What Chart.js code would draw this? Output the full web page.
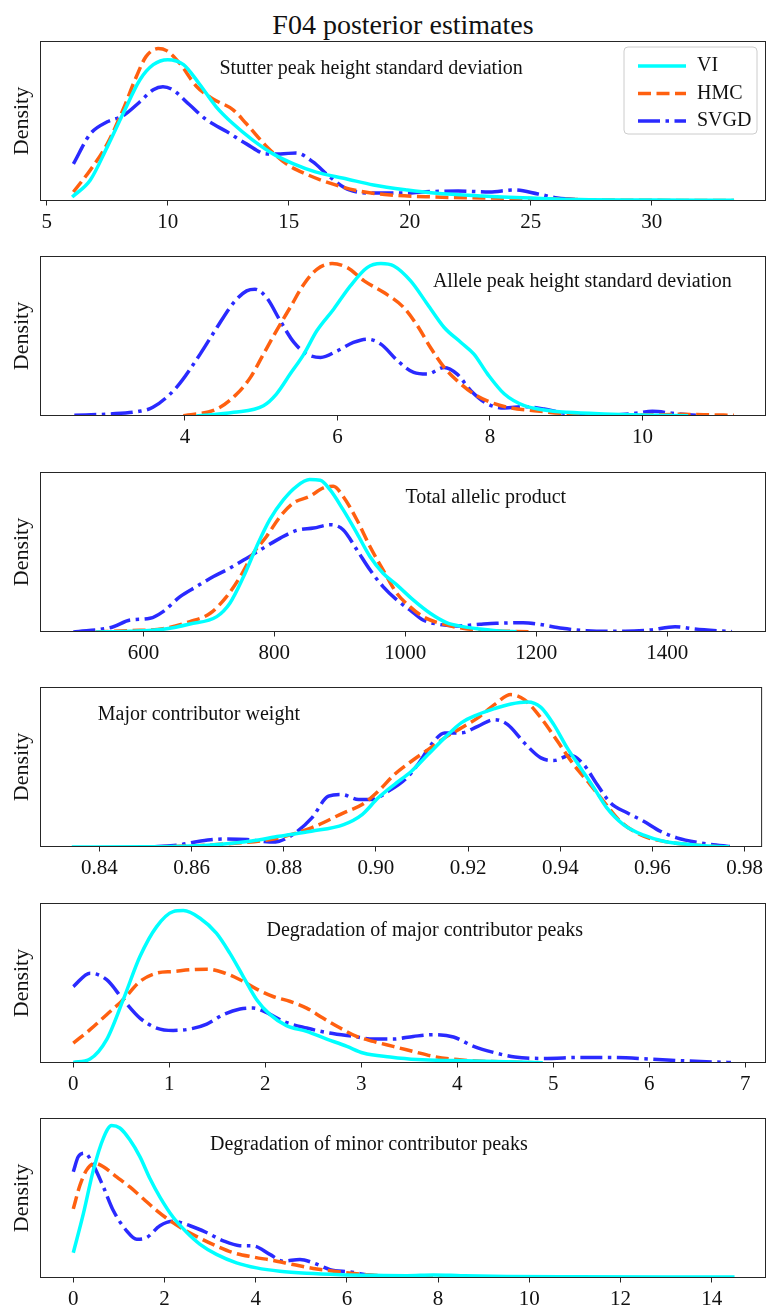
<!DOCTYPE html>
<html>
<head>
<meta charset="utf-8">
<title>F04 posterior estimates</title>
<script src="https://cdn.jsdelivr.net/npm/chart.js@4.4.1/dist/chart.umd.min.js"></script>
<style>
  html, body { margin: 0; padding: 0; background: #fff; overflow: hidden; }
  #page { position: relative; width: 767px; height: 1305px; }
  #title {
    position: absolute; left: 40px; width: 726px; top: 9px;
    text-align: center; font: 28px/32px "Liberation Serif", serif; color: #111;
  }
  canvas { position: absolute; left: 0; }
</style>
</head>
<body>
<div id="page">
  <div id="title">F04 posterior estimates</div>
</div>
<script>
// KDE curves per parameter, as [value, density] pairs
const stutterVI = [[6.05,0.004],[6.8,0.021],[7.5,0.054],[8.15,0.087],[8.85,0.121],[9.4,0.136],[10.0,0.141],[10.65,0.136],[11.3,0.117],[12.0,0.094],[12.7,0.077],[13.5,0.061],[14.35,0.047],[15.2,0.037],[16.1,0.029],[17.4,0.022],[18.5,0.016],[19.9,0.011],[21.0,0.008],[23.0,0.005],[25.0,0.003],[27.0,0.0015],[30.0,0.001],[33.4,0.0008]];
const stutterHMC = [[6.1,0.009],[6.8,0.031],[7.5,0.057],[8.15,0.091],[8.7,0.124],[9.1,0.144],[9.6,0.152],[9.95,0.150],[10.5,0.137],[11.2,0.114],[11.85,0.102],[12.7,0.091],[13.25,0.077],[14.1,0.054],[14.9,0.037],[15.7,0.027],[16.8,0.017],[17.9,0.010],[19.2,0.006],[21.0,0.004],[23.0,0.003],[25.0,0.0025],[28.0,0.001],[33.4,0.0005]];
const stutterSVGD = [[6.1,0.037],[6.8,0.067],[7.5,0.079],[8.15,0.085],[8.85,0.099],[9.4,0.111],[9.8,0.114],[10.2,0.111],[10.9,0.096],[11.6,0.081],[12.45,0.069],[13.25,0.057],[14.1,0.047],[14.65,0.047],[15.3,0.048],[16.0,0.039],[16.7,0.024],[17.5,0.011],[18.5,0.008],[19.9,0.008],[20.5,0.009],[22.0,0.010],[23.3,0.009],[24.3,0.011],[25.3,0.007],[26.1,0.003],[27.3,0.001],[27.6,0.0005]];

const alleleVI = [[4.15,0.0],[4.64,0.011],[5.03,0.031],[5.2,0.066],[5.38,0.126],[5.56,0.186],[5.73,0.256],[5.95,0.321],[6.17,0.391],[6.39,0.446],[6.57,0.458],[6.74,0.451],[6.96,0.406],[7.18,0.336],[7.4,0.266],[7.62,0.221],[7.79,0.186],[7.97,0.126],[8.19,0.066],[8.45,0.031],[8.71,0.018],[9.02,0.011],[9.5,0.006],[10.0,0.003],[10.6,0.001]];
const alleleHMC = [[3.98,0.001],[4.42,0.021],[4.68,0.066],[4.86,0.116],[5.03,0.186],[5.2,0.256],[5.38,0.326],[5.56,0.396],[5.73,0.441],[5.93,0.458],[6.13,0.446],[6.35,0.406],[6.61,0.371],[6.87,0.326],[7.05,0.271],[7.22,0.206],[7.4,0.146],[7.57,0.106],[7.79,0.066],[8.01,0.041],[8.28,0.024],[8.58,0.016],[8.93,0.008],[9.5,0.004],[10.0,0.003],[10.5,0.005],[10.8,0.004],[11.2,0.002]];
const alleleSVGD = [[2.55,0.002],[3.0,0.006],[3.4,0.014],[3.58,0.026],[3.89,0.086],[4.2,0.186],[4.42,0.266],[4.64,0.341],[4.81,0.376],[4.92,0.381],[5.07,0.356],[5.25,0.286],[5.43,0.221],[5.6,0.186],[5.78,0.176],[6.0,0.196],[6.21,0.221],[6.39,0.231],[6.57,0.216],[6.79,0.166],[7.0,0.131],[7.18,0.126],[7.4,0.146],[7.57,0.126],[7.75,0.076],[7.97,0.036],[8.19,0.024],[8.45,0.028],[8.71,0.021],[8.98,0.008],[9.5,0.002],[9.9,0.008],[10.13,0.014],[10.4,0.008],[10.7,0.002]];

const allelicVI = [[527,0.0],[580,0.00002],[630,0.00008],[671,0.00024],[712,0.00046],[732,0.00086],[753,0.00166],[773,0.00256],[793,0.00336],[814,0.00396],[834,0.00436],[854,0.00456],[870,0.00454],[885,0.00426],[905,0.00366],[926,0.00296],[946,0.00226],[966,0.00176],[987,0.00141],[1012,0.00096],[1038,0.00056],[1063,0.00028],[1088,0.00016],[1114,0.00009],[1150,0.00002],[1170,0.00001]];
const allelicHMC = [[527,0.0],[580,0.00004],[630,0.00010],[671,0.00031],[702,0.00056],[727,0.00106],[748,0.00166],[768,0.00236],[788,0.00286],[809,0.00346],[829,0.00386],[854,0.00406],[875,0.00431],[890,0.00436],[905,0.00406],[926,0.00336],[946,0.00256],[966,0.00186],[987,0.00116],[1007,0.00076],[1027,0.00046],[1053,0.00026],[1088,0.00011],[1130,0.00004],[1190,0.00001]];
const allelicSVGD = [[493,0.0],[553,0.00015],[580,0.00036],[610,0.00041],[630,0.00061],[656,0.00106],[681,0.00136],[707,0.00166],[732,0.00191],[758,0.00221],[783,0.00251],[809,0.00281],[834,0.00304],[860,0.00311],[885,0.00321],[905,0.00306],[926,0.00246],[946,0.00186],[966,0.00136],[987,0.00096],[1007,0.00066],[1027,0.00036],[1048,0.00024],[1078,0.00018],[1114,0.00023],[1139,0.00026],[1180,0.00028],[1202,0.00024],[1240,0.00011],[1277,0.00004],[1336,0.00002],[1374,0.00006],[1412,0.00016],[1442,0.00009],[1499,0.00001]];

const weightVI = [[0.834,0.0],[0.850,0.04],[0.860,0.2],[0.867,0.6],[0.873,1.2],[0.879,2.16],[0.886,3.16],[0.893,4.5],[0.897,6.5],[0.9005,9.84],[0.904,12.5],[0.9077,15.16],[0.9113,18.5],[0.9149,21.84],[0.9185,24.84],[0.9221,26.5],[0.9257,27.7],[0.9293,28.64],[0.9329,29.04],[0.9358,27.96],[0.9386,24.5],[0.9415,19.84],[0.9444,15.84],[0.9473,11.84],[0.9501,7.84],[0.9537,4.5],[0.9581,2.36],[0.9624,1.16],[0.9681,0.5],[0.9739,0.1],[0.9767,0.05]];
const weightHMC = [[0.852,0.0],[0.862,0.3],[0.870,0.8],[0.875,1.2],[0.879,1.84],[0.886,3.84],[0.893,6.84],[0.897,8.5],[0.9005,11.16],[0.904,14.5],[0.9077,17.16],[0.9113,19.5],[0.9149,21.84],[0.9185,23.84],[0.9221,25.84],[0.9257,28.5],[0.9293,30.5],[0.9322,29.5],[0.9358,25.84],[0.9394,21.16],[0.9429,16.5],[0.9465,12.5],[0.9494,9.16],[0.953,5.16],[0.9581,2.16],[0.9631,1.04],[0.9696,0.36],[0.9746,0.04]];
const weightSVGD = [[0.852,0.06],[0.857,0.4],[0.862,1.2],[0.867,1.6],[0.872,1.5],[0.877,1.0],[0.879,1.16],[0.8825,2.84],[0.8861,5.84],[0.8897,10.16],[0.8926,10.5],[0.8962,9.5],[0.8991,9.5],[0.9027,11.16],[0.9063,13.5],[0.9091,16.5],[0.912,20.5],[0.9149,22.84],[0.9185,22.84],[0.9221,24.16],[0.9257,25.5],[0.9286,24.5],[0.9322,20.84],[0.9358,17.84],[0.9386,17.3],[0.9422,18.36],[0.9451,16.5],[0.948,12.5],[0.9509,8.84],[0.9545,6.84],[0.9581,5.16],[0.9617,3.16],[0.9653,1.84],[0.9703,0.84],[0.9761,0.16],[0.9768,0.1]];

const majorVI = [[0,0.003],[0.174,0.02],[0.347,0.117],[0.52,0.317],[0.694,0.533],[0.868,0.683],[1.04,0.758],[1.146,0.763],[1.32,0.725],[1.49,0.65],[1.63,0.55],[1.77,0.433],[1.91,0.317],[2.05,0.242],[2.22,0.187],[2.43,0.158],[2.64,0.12],[2.85,0.083],[3.02,0.05],[3.3,0.03],[3.58,0.017],[4.0,0.012],[4.4,0.008],[4.89,0.001]];
const majorHMC = [[0,0.1],[0.174,0.167],[0.347,0.242],[0.52,0.317],[0.694,0.408],[0.868,0.45],[1.04,0.458],[1.215,0.467],[1.39,0.47],[1.56,0.453],[1.736,0.417],[1.91,0.37],[2.08,0.333],[2.26,0.308],[2.43,0.275],[2.6,0.225],[2.78,0.175],[2.95,0.133],[3.125,0.108],[3.33,0.083],[3.54,0.058],[3.75,0.033],[4.0,0.017],[4.2,0.01],[4.5,0.005],[4.9,0.0]];
const majorSVGD = [[0,0.383],[0.174,0.45],[0.347,0.417],[0.52,0.317],[0.694,0.225],[0.868,0.175],[1.04,0.163],[1.215,0.17],[1.39,0.195],[1.56,0.242],[1.736,0.27],[1.875,0.275],[2.01,0.253],[2.19,0.208],[2.43,0.175],[2.67,0.15],[2.92,0.133],[3.125,0.12],[3.33,0.12],[3.54,0.133],[3.75,0.142],[3.96,0.13],[4.17,0.083],[4.4,0.05],[4.6,0.03],[4.9,0.023],[5.3,0.028],[5.6,0.028],[6.0,0.02],[6.4,0.01],[6.85,0.0025]];

const minorVI = [[0,0.075],[0.22,0.19],[0.44,0.32],[0.66,0.415],[0.84,0.452],[1.02,0.445],[1.24,0.41],[1.46,0.36],[1.68,0.295],[1.9,0.24],[2.19,0.18],[2.49,0.135],[2.78,0.1],[3.14,0.07],[3.58,0.045],[4.02,0.03],[4.53,0.02],[5.12,0.014],[5.85,0.01],[6.58,0.008],[7.31,0.007],[7.9,0.009],[8.5,0.007],[9.5,0.0045],[11.0,0.0036],[13.0,0.003],[14.5,0.003]];
const minorHMC = [[0,0.205],[0.146,0.275],[0.29,0.32],[0.475,0.34],[0.66,0.33],[0.95,0.3],[1.24,0.27],[1.535,0.235],[1.83,0.2],[2.12,0.17],[2.41,0.145],[2.78,0.118],[3.14,0.095],[3.51,0.075],[3.95,0.062],[4.39,0.052],[4.82,0.04],[5.34,0.027],[5.85,0.018],[6.43,0.01],[6.94,0.005],[8.0,0.004],[9.0,0.003]];
const minorSVGD = [[0,0.315],[0.11,0.36],[0.256,0.37],[0.44,0.335],[0.66,0.27],[0.877,0.2],[1.17,0.14],[1.39,0.115],[1.61,0.12],[1.9,0.155],[2.19,0.168],[2.56,0.155],[2.92,0.135],[3.29,0.11],[3.65,0.096],[3.95,0.095],[4.31,0.07],[4.6,0.05],[4.97,0.055],[5.26,0.045],[5.63,0.025],[6.07,0.018],[6.5,0.008],[6.87,0.002]];

// x ticks
const stutterTicks = [5, 10, 15, 20, 25, 30];
const alleleTicks = [4, 6, 8, 10];
const allelicTicks = [600, 800, 1000, 1200, 1400];
const weightTicks = [0.84, 0.86, 0.88, 0.90, 0.92, 0.94, 0.96, 0.98];
const weightTickLabels = ['0.84', '0.86', '0.88', '0.90', '0.92', '0.94', '0.96', '0.98'];
const majorTicks = [0, 1, 2, 3, 4, 5, 6, 7];
const minorTicks = [0, 2, 4, 6, 8, 10, 12, 14];

const methods = ['VI', 'HMC', 'SVGD'];

const FONT = '"Liberation Serif", "Times New Roman", serif';
const TEXT = '#111111';
const lineColors = ['#00ffff', '#ff6010', '#2a2aff'];
const lineDashes = [[], [13, 5.5], [22, 5.5, 3.5, 5.5]];

const panels = [
  { name: 'Stutter peak height standard deviation', series: [stutterVI, stutterHMC, stutterSVGD],
    ticks: stutterTicks, min: 4.72, max: 34.72, at: [0.456, 0.174], legend: true },
  { name: 'Allele peak height standard deviation', series: [alleleVI, alleleHMC, alleleSVGD],
    ticks: alleleTicks, min: 2.10, max: 11.62, at: [0.747, 0.162] },
  { name: 'Total allelic product', series: [allelicVI, allelicHMC, allelicSVGD],
    ticks: allelicTicks, min: 442, max: 1551, at: [0.614, 0.162] },
  { name: 'Major contributor weight', series: [weightVI, weightHMC, weightSVGD],
    ticks: weightTicks, tickLabels: weightTickLabels, min: 0.8271, max: 0.9838, at: [0.22, 0.172] },
  { name: 'Degradation of major contributor peaks', series: [majorVI, majorHMC, majorSVGD],
    ticks: majorTicks, min: -0.347, max: 7.215, at: [0.53, 0.171] },
  { name: 'Degradation of minor contributor peaks', series: [minorVI, minorHMC, minorSVGD],
    ticks: minorTicks, min: -0.73, max: 15.19, at: [0.453, 0.168] }
];

const axTops = [41, 256, 472, 687, 903, 1118];
const axHeight = 160;
const padTop = 12;
const canvasH = 205;

// axes frame on all four sides
const frame = {
  id: 'frame',
  afterDraw(chart) {
    const { ctx, chartArea: a } = chart;
    ctx.save();
    ctx.strokeStyle = '#262626';
    ctx.lineWidth = 1;
    ctx.strokeRect(a.left + 0.5, a.top + 0.5, a.width - 1, a.height - 1);
    ctx.restore();
  }
};

// parameter name written inside the axes
const panelLabel = {
  id: 'panelLabel',
  afterDatasetsDraw(chart, args, opts) {
    const { ctx, chartArea: a } = chart;
    ctx.save();
    ctx.font = '20px ' + FONT;
    ctx.fillStyle = TEXT;
    ctx.textAlign = 'center';
    ctx.textBaseline = 'middle';
    ctx.fillText(opts.text, a.left + opts.x * a.width, a.top + opts.y * a.height);
    ctx.restore();
  }
};

// framed legend in the upper right corner, styled from the datasets
const lineLegend = {
  id: 'lineLegend',
  afterDraw(chart, args, opts) {
    if (!opts.show) return;
    const { ctx, chartArea: a } = chart;
    const w = 133, h = 87;
    const x = a.right - 9 - w, y = a.top + 6;
    ctx.save();
    ctx.beginPath();
    ctx.roundRect(x, y, w, h, 4);
    ctx.fillStyle = 'rgba(255,255,255,0.8)';
    ctx.fill();
    ctx.strokeStyle = '#cccccc';
    ctx.lineWidth = 1;
    ctx.stroke();
    ctx.font = '20px ' + FONT;
    ctx.textBaseline = 'middle';
    chart.data.datasets.forEach((ds, i) => {
      const cy = y + 19 + i * 27.5;
      ctx.beginPath();
      ctx.setLineDash(ds.borderDash);
      ctx.strokeStyle = ds.borderColor;
      ctx.lineWidth = ds.borderWidth;
      ctx.moveTo(x + 14, cy);
      ctx.lineTo(x + 62, cy);
      ctx.stroke();
      ctx.setLineDash([]);
      ctx.fillStyle = TEXT;
      ctx.fillText(ds.label, x + 73, cy);
    });
    ctx.restore();
  }
};

const page = document.getElementById('page');

panels.forEach((p, i) => {
  const canvas = document.createElement('canvas');
  canvas.width = 767;
  canvas.height = canvasH;
  canvas.style.top = (axTops[i] - padTop) + 'px';
  page.appendChild(canvas);

  const peak = Math.max(...p.series.flat().map(pt => pt[1]));

  new Chart(canvas, {
    type: 'line',
    data: {
      datasets: p.series.map((s, k) => ({
        label: methods[k],
        data: s.map(([x, y]) => ({ x, y })),
        borderColor: lineColors[k],
        borderWidth: 3.5,
        borderDash: lineDashes[k],
        pointRadius: 0,
        cubicInterpolationMode: 'monotone',
        fill: false
      }))
    },
    options: {
      responsive: false,
      animation: false,
      events: [],
      layout: { padding: { top: padTop, right: 1, left: 0, bottom: 0 } },
      plugins: {
        legend: { display: false },
        tooltip: { enabled: false },
        panelLabel: { text: p.name, x: p.at[0], y: p.at[1] },
        lineLegend: { show: !!p.legend }
      },
      scales: {
        x: {
          type: 'linear',
          min: p.min,
          max: p.max,
          afterBuildTicks: ax => { ax.ticks = p.ticks.map(value => ({ value })); },
          afterFit: ax => { ax.height = canvasH - padTop - axHeight; },
          ticks: {
            autoSkip: false,
            maxRotation: 0,
            padding: 4,
            color: TEXT,
            font: { family: FONT, size: 21 },
            callback: (v, idx) => p.tickLabels ? p.tickLabels[idx] : String(p.ticks[idx])
          },
          grid: { display: true, drawOnChartArea: false, drawTicks: true, tickLength: 4.5, color: '#262626' },
          border: { display: false }
        },
        y: {
          min: 0,
          max: peak * 1.05,
          afterFit: ax => { ax.width = 40; },
          ticks: { display: false },
          grid: { display: false },
          border: { display: false },
          title: {
            display: true,
            text: 'Density',
            color: TEXT,
            font: { family: FONT, size: 22 },
            padding: { top: 9, bottom: 0 }
          }
        }
      }
    },
    plugins: [frame, panelLabel, lineLegend]
  });
});
</script>
</body>
</html>
